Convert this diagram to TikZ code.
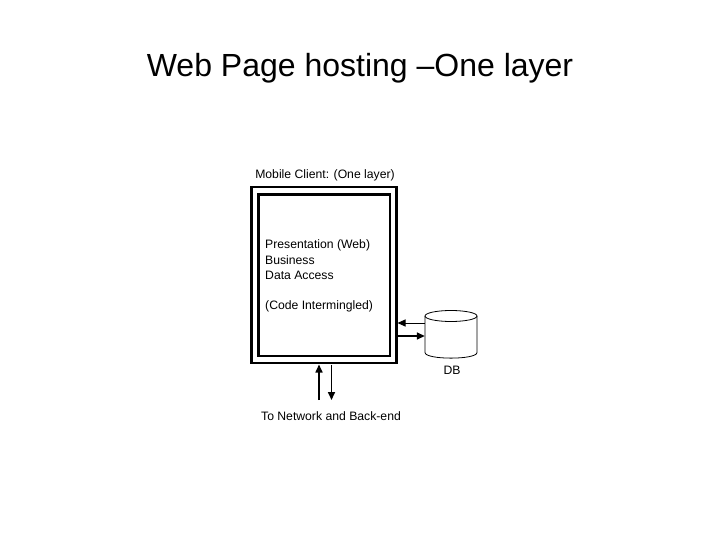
\documentclass[tikz,border=0pt]{standalone}
\usepackage{fontspec}
\setmainfont{Liberation Sans}
\usetikzlibrary{arrows.meta}
\begin{document}
\begin{tikzpicture}[x=1pt,y=-1pt,
  lbl/.style={font=\fontsize{12.2}{14}\selectfont, inner sep=0pt},
  arr/.style={-{Triangle[length=8pt,width=7pt]}}]
\useasboundingbox (0,0) rectangle (720,540);
\node[font=\fontsize{32}{36}\selectfont] (title) at (360,68) {Web Page hosting –One layer};
\draw[line width=2.6pt] (251.5,187) rectangle (396.5,363);
\draw[line width=2.2pt] (258.5,194.5) rectangle (390,356);
\coordinate (outerR) at (397.5,330);
\node[lbl] (mc) at (325,175) {Mobile Client: (One layer)};
\node[lbl, anchor=west] (t1) at (265,245) {Presentation (Web)};
\node[lbl, anchor=west] (t2) at (265,260) {Business};
\node[lbl, anchor=west] (t3) at (265,275) {Data Access};
\node[lbl, anchor=west] (t4) at (265,306) {(Code Intermingled)};
\node[minimum width=52pt, minimum height=47pt, inner sep=0pt] (db) at (451,334) {};
\draw[line width=0.8pt] (425,316) -- (425,352.5)
   .. controls (425,360) and (477,360) .. (477,352.5) -- (477,316);
\draw[line width=0.8pt] (451,316) ellipse [x radius=26pt, y radius=5.5pt];
\node[lbl] (dbl) at (452,370) {DB};
\node[lbl] (net) at (331,416) {To Network and Back-end};
\draw[arr, line width=1pt] (db.west |- 0,323) -- (outerR |- 0,323);
\draw[arr, line width=1.6pt] (outerR |- 0,336) -- (db.west |- 0,336);
\draw[arr, line width=1.6pt] (319,400) -- (319,364.5);
\draw[arr, line width=1.6pt] (331.5,364.5) -- (331.5,400);
\end{tikzpicture}
\end{document}
